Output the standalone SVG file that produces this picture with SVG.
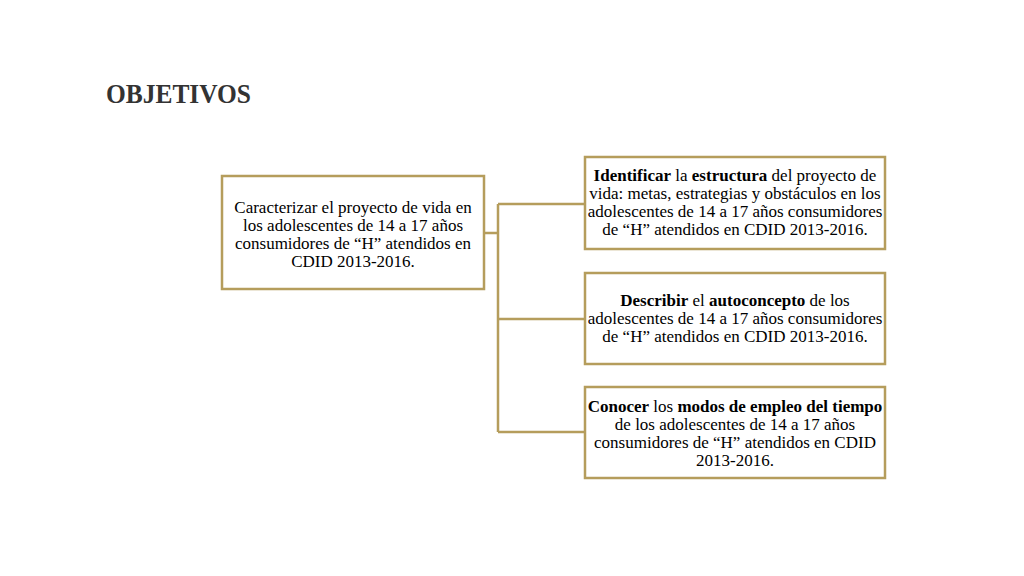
<svg xmlns="http://www.w3.org/2000/svg" width="1024" height="576" viewBox="0 0 1024 576">
<style>
.box{fill:#fff;stroke:#B59D5C;stroke-width:2.5}
.con{fill:none;stroke:#B59D5C;stroke-width:2.5}
.t{font-family:"Liberation Serif","Times New Roman",serif;font-size:17px;fill:#000;text-anchor:middle}
.b{font-weight:bold}
.title{font-family:"Liberation Serif","Times New Roman",serif;font-size:28px;font-weight:bold;fill:#333}
</style>
<rect width="1024" height="576" fill="#fff"/>
<text class="title" x="106" y="103" textLength="145" lengthAdjust="spacingAndGlyphs">OBJETIVOS</text>
<g id="connectors">
<path class="con" d="M484 233 H498 M498 204 V432 M498 204 H585 M498 319 H585 M498 432 H585"/>
</g>
<g id="n0">
<rect class="box" x="222" y="176" width="262" height="113"/>
<text class="t" x="353" y="213">Caracterizar el proyecto de vida en</text>
<text class="t" x="353" y="231">los adolescentes de 14 a 17 años</text>
<text class="t" x="353" y="249">consumidores de “H” atendidos en</text>
<text class="t" x="353" y="267">CDID 2013-2016.</text>
</g>
<g id="n1">
<rect class="box" x="585" y="157" width="300" height="92"/>
<text class="t" x="735" y="181"><tspan class="b">Identificar</tspan> la <tspan class="b">estructura</tspan> del proyecto de</text>
<text class="t" x="735" y="199">vida: metas, estrategias y obstáculos en los</text>
<text class="t" x="735" y="217">adolescentes de 14 a 17 años consumidores</text>
<text class="t" x="735" y="235">de “H” atendidos en CDID 2013-2016.</text>
</g>
<g id="n2">
<rect class="box" x="585" y="273" width="300" height="91"/>
<text class="t" x="735" y="306"><tspan class="b">Describir</tspan> el <tspan class="b">autoconcepto</tspan> de los</text>
<text class="t" x="735" y="324">adolescentes de 14 a 17 años consumidores</text>
<text class="t" x="735" y="342">de “H” atendidos en CDID 2013-2016.</text>
</g>
<g id="n3">
<rect class="box" x="585" y="387" width="300" height="91"/>
<text class="t" x="735" y="412"><tspan class="b">Conocer</tspan> los <tspan class="b">modos de empleo del tiempo</tspan></text>
<text class="t" x="735" y="430">de los adolescentes de 14 a 17 años</text>
<text class="t" x="735" y="448">consumidores de “H” atendidos en CDID</text>
<text class="t" x="735" y="466">2013-2016.</text>
</g>
</svg>
